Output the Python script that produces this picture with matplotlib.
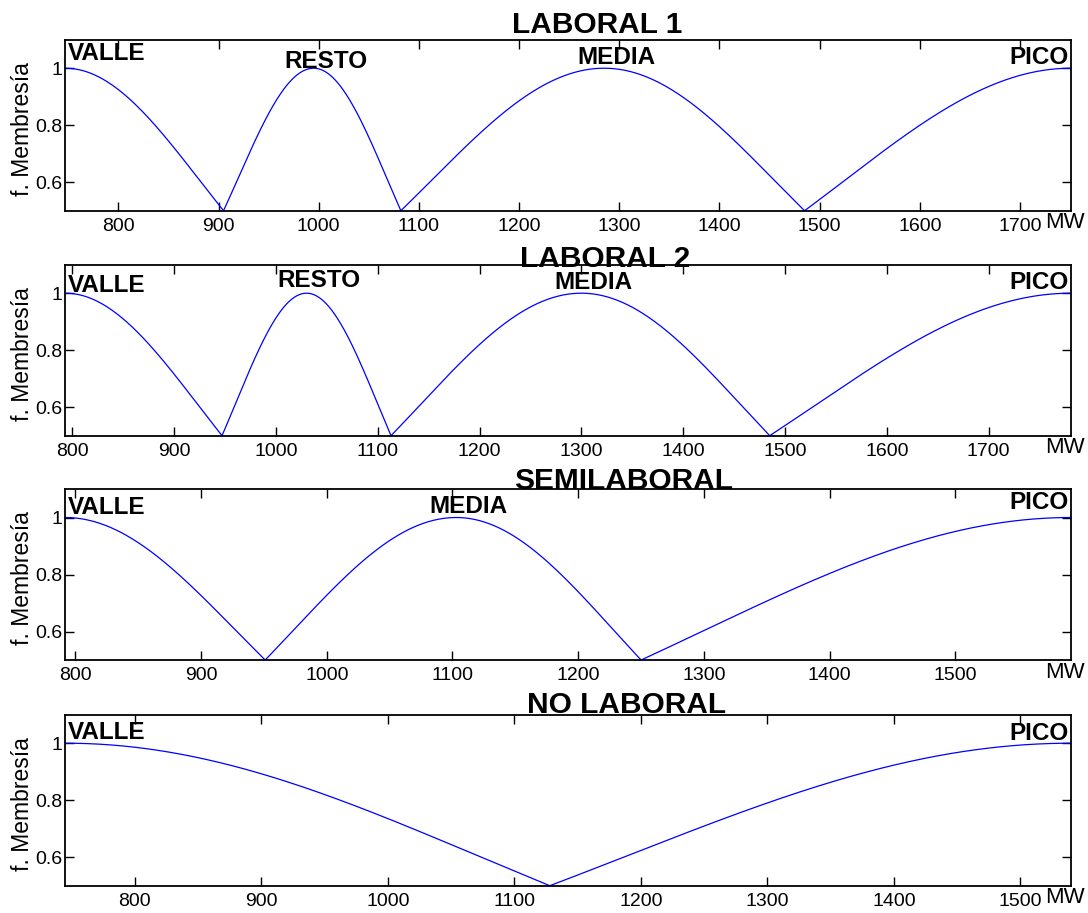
import numpy as np
import matplotlib
matplotlib.use("Agg")
import matplotlib.pyplot as plt

plt.rcParams['font.family'] = ['Liberation Sans', 'DejaVu Sans']

# demand ranges (MW) for each day type
titles = ['LABORAL 1', 'LABORAL 2', 'SEMILABORAL', 'NO LABORAL']
x_ranges = [(747, 1751), (793, 1781), (792, 1592), (745, 1540)]

# fuzzy set names and their centres (value 1)
set_names = [['VALLE', 'RESTO', 'MEDIA', 'PICO'],
             ['VALLE', 'RESTO', 'MEDIA', 'PICO'],
             ['VALLE', 'MEDIA', 'PICO'],
             ['VALLE', 'PICO']]
centres = [[747, 995, 1285, 1751],
           [793, 1030, 1300, 1781],
           [792, 1103, 1592],
           [745, 1540]]
# points where two neighbouring sets cross at 0.5
crossings = [[905, 1082, 1485],
             [947, 1113, 1485],
             [951, 1250],
             [1128]]

# label heights and title placement
label_y = [[1.05, 1.023, 1.039, 1.039],
           [1.027, 1.044, 1.037, 1.037],
           [1.035, 1.037, 1.054],
           [1.038, 1.034]]
title_x = [0.529, 0.537, 0.555, 0.558]
title_y = [1.04, 0.985, 1.0, 1.01]

ax_bottoms = [0.7692, 0.5228, 0.2771, 0.0299]


def membership(x, c, d_left, d_right):
    d = np.where(x < c, d_left, d_right)
    return np.exp(-np.log(2) * ((x - c) / d) ** 2)


fig = plt.figure(figsize=(10.88, 9.13), dpi=100)

for i in range(4):
    ax = fig.add_axes([0.060, ax_bottoms[i], 0.9244, 0.1873])
    x0, x1 = x_ranges[i]
    x = np.linspace(x0, x1, 800)
    c = centres[i]
    cr = crossings[i]
    for k in range(len(c)):
        d_left = c[k] - cr[k - 1] if k > 0 else 1e9
        d_right = cr[k] - c[k] if k < len(cr) else 1e9
        ax.plot(x, membership(x, c[k], d_left, d_right), color='#0000ff', lw=0.9)

    ax.set_xlim(x0, x1)
    ax.set_ylim(0.5, 1.1)
    ax.set_xticks(np.arange(800, x1 + 1, 100))
    ax.set_yticks([0.6, 0.8, 1.0])
    ax.set_yticklabels(['0.6', '0.8', '1'])
    ax.tick_params(direction='in', length=6.5, width=1.0, top=True, right=True,
                   labelsize=14, pad=5)
    ax.tick_params(axis='y', pad=2)
    for s in ax.spines.values():
        s.set_linewidth(1.3)

    ax.set_ylabel('f. Membresía', fontsize=16.5)
    ax.yaxis.set_label_coords(-0.031, 0.48)

    ax.text(title_x[i], title_y[i], titles[i], transform=ax.transAxes,
            ha='center', va='baseline', fontsize=21.5, fontweight='bold')
    ax.text(1.014, -0.01, 'MW', transform=ax.transAxes, ha='right', va='top',
            fontsize=16)

    names = set_names[i]
    for k, name in enumerate(names):
        if k == 0:
            ax.annotate(name, (c[k], label_y[i][k]), xytext=(2, 0),
                        textcoords='offset points', ha='left', va='center',
                        fontsize=17.5, fontweight='bold')
        elif k == len(names) - 1:
            ax.annotate(name, (c[k], label_y[i][k]), xytext=(-2, 0),
                        textcoords='offset points', ha='right', va='center',
                        fontsize=17.5, fontweight='bold')
        else:
            ax.annotate(name, (c[k], label_y[i][k]), xytext=(9, 0),
                        textcoords='offset points', ha='center', va='center',
                        fontsize=17.5, fontweight='bold')

fig.savefig('out.png', dpi=100)
